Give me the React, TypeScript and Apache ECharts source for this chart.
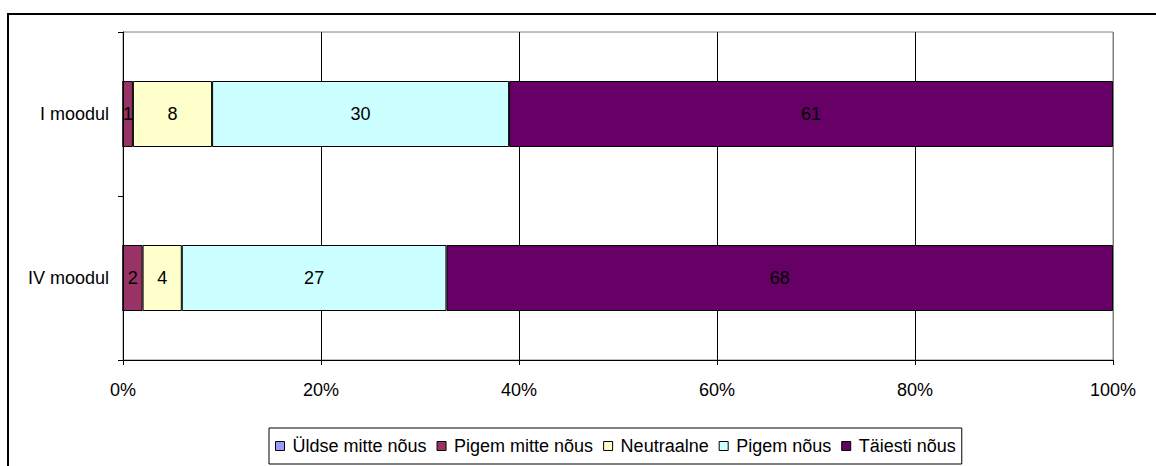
import React, { useEffect, useRef } from "react";
import * as echarts from "echarts";

const categories = ["I moodul", "IV moodul"];
const seriesNames = ["Üldse mitte nõus", "Pigem mitte nõus", "Neutraalne", "Pigem nõus", "Täiesti nõus"];
const uldseMitte = [0, 0];
const pigemMitte = [1, 2];
const neutraalne = [8, 4];
const pigemNous = [30, 27];
const taiesti = [61, 68];
const colors = ["#9999FF", "#993366", "#FFFFCC", "#CCFFFF", "#660066"];
const xTicks = [0, 20, 40, 60, 80, 100];

export default function App() {
  const ref = useRef<HTMLDivElement>(null);
  useEffect(() => {
    if (!ref.current) return;
    const chart = echarts.init(ref.current, undefined, { renderer: "svg" });
    const raw = [uldseMitte, pigemMitte, neutraalne, pigemNous, taiesti];
    const totals = categories.map((_, i) => raw.reduce((s, arr) => s + arr[i], 0));
    const font = "Arial, 'Liberation Sans', sans-serif";
    const series = raw.map((arr, si) => ({
      name: seriesNames[si],
      type: "bar",
      stack: "all",
      barWidth: 66,
      data: arr.map((v, i) => ({ value: (v / totals[i]) * 100, raw: v })),
      itemStyle: { color: colors[si], borderColor: "#000", borderWidth: 1 },
      label: {
        show: true,
        position: "inside",
        color: "#000",
        fontSize: 18,
        fontFamily: font,
        formatter: (p: any) => (p.data.raw ? String(p.data.raw) : ""),
      },
    }));
    chart.setOption({
      animation: false,
      backgroundColor: "#fff",
      color: colors,
      textStyle: { fontFamily: font },
      grid: {
        left: 123,
        top: 32,
        right: 43,
        bottom: 106,
        show: true,
        borderColor: "#808080",
        borderWidth: 1,
        backgroundColor: "transparent",
      },
      xAxis: {
        type: "value",
        min: xTicks[0],
        max: xTicks[xTicks.length - 1],
        interval: 20,
        axisLine: { show: true, lineStyle: { color: "#000", width: 1 } },
        axisTick: { show: true, length: 5, lineStyle: { color: "#000" } },
        axisLabel: { formatter: "{value}%", color: "#000", fontSize: 18, fontFamily: font, margin: 21 },
        splitLine: {
          show: true,
          lineStyle: { color: ["#000", "#000", "#000", "#000", "#000", "#808080"], width: 1 },
        },
      },
      yAxis: {
        type: "category",
        data: categories,
        inverse: true,
        axisLine: { show: true, lineStyle: { color: "#000", width: 1 } },
        axisTick: { show: true, length: 5, lineStyle: { color: "#000" } },
        axisLabel: { color: "#000", fontSize: 18, fontFamily: font, margin: 14 },
        splitLine: { show: false },
      },
      legend: {
        left: 269,
        top: 428,
        orient: "horizontal",
        icon: "rect",
        itemWidth: 9,
        itemHeight: 9,
        itemGap: 10,
        padding: [9, 6, 9, 6],
        borderColor: "#000",
        borderWidth: 1,
        textStyle: { color: "#000", fontSize: 18, fontFamily: font, padding: [0, 0, 0, 3] },
        itemStyle: { borderColor: "#000", borderWidth: 1 },
        data: seriesNames,
      },
      graphic: [
        { type: "line", shape: { x1: 8, y1: 13, x2: 8, y2: 466 }, style: { stroke: "#000", lineWidth: 2 } },
        { type: "line", shape: { x1: 7, y1: 14, x2: 1156, y2: 14 }, style: { stroke: "#000", lineWidth: 2 } },
      ],
      series,
    });
    return () => chart.dispose();
  }, []);
  return (
    <div
      ref={ref}
      style={{ position: "absolute", left: 0, top: 0, width: 1156, height: 466 }}
    />
  );
}
